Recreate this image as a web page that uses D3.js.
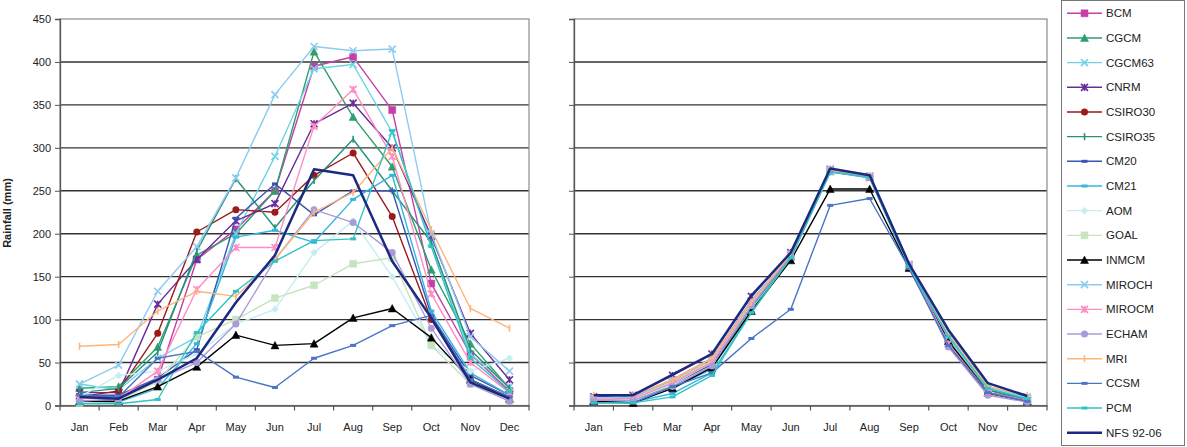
<!DOCTYPE html>
<html><head><meta charset="utf-8">
<script src="https://cdn.jsdelivr.net/npm/d3@7"></script>
<style>body{margin:0;background:#fff;}svg{display:block;font-family:"Liberation Sans",Arial,sans-serif;}</style>
</head><body><svg id="c" width="1187" height="447"></svg>
<script>
const months = ["Jan","Feb","Mar","Apr","May","Jun","Jul","Aug","Sep","Oct","Nov","Dec"];
const yTicks = [0,50,100,150,200,250,300,350,400,450];
const models = ["BCM","CGCM","CGCM63","CNRM","CSIRO30","CSIRO35","CM20","CM21","AOM","GOAL","INMCM","MIROCH","MIROCM","ECHAM","MRI","CCSM","PCM","NFS 92-06"];

// Left panel: raw model rainfall (mm)
const bcmRaw     = [10,10,30,170,205,250,395,406,344,142,60,17];
const cgcmRaw    = [20,22,68,175,200,250,412,336,278,158,72,20];
const cgcm63Raw  = [25,18,55,80,200,290,392,397,318,190,60,22];
const cnrmRaw    = [15,15,118,170,215,235,328,352,300,197,84,30];
const csiro30Raw = [10,17,84,202,228,225,268,294,220,100,30,10];
const csiro35Raw = [15,20,62,180,264,207,262,310,250,190,65,20];
const cm20Raw    = [12,12,32,65,218,258,222,250,250,105,35,12];
const cm21Raw    = [3,4,20,72,196,204,190,240,268,110,38,12];
const aomRaw     = [10,35,40,60,95,112,178,215,150,70,40,55];
const goalRaw    = [3,5,28,80,100,125,140,165,172,70,25,5];
const inmcmRaw   = [5,5,22,45,82,70,72,102,113,79,30,8];
const mirochRaw  = [25,47,133,185,265,362,418,413,415,200,80,40];
const mirocmRaw  = [8,8,40,135,184,184,325,368,290,130,50,15];
const echamRaw   = [5,8,30,50,95,170,228,213,178,90,25,5];
const mriRaw     = [69,71,110,133,127,170,225,248,300,205,113,90];
const ccsmRaw    = [12,10,55,63,33,21,55,70,93,105,30,10];
const pcmRaw     = [2,2,7,85,133,168,192,194,320,185,55,16];
const nfsObs     = [10,8,30,55,120,175,275,268,168,102,27,8];

// Right panel: corrected model rainfall (mm)
const bcmCor     = [8,10,30,55,122,176,274,266,163,75,18,8];
const cgcmCor    = [6,8,25,50,118,174,273,266,162,78,20,8];
const cgcm63Cor  = [5,6,20,42,112,172,272,265,162,80,20,6];
const cnrmCor    = [10,12,35,60,127,178,275,267,164,72,15,6];
const csiro30Cor = [8,10,28,52,120,175,273,266,163,70,14,5];
const csiro35Cor = [6,7,22,45,115,173,272,266,162,75,18,6];
const cm20Cor    = [7,8,25,48,118,175,273,266,163,78,20,8];
const cm21Cor    = [4,4,14,38,108,172,272,265,161,82,22,8];
const aomCor     = [6,7,25,50,118,176,274,267,164,80,20,10];
const goalCor    = [8,9,28,52,120,176,274,267,164,78,20,9];
const inmcmCor   = [5,3,20,44,110,169,252,252,160,75,15,5];
const mirochCor  = [9,10,30,55,122,176,274,266,164,80,22,10];
const mirocmCor  = [7,8,26,50,120,175,273,266,163,72,15,6];
const echamCor   = [6,6,22,46,116,174,273,266,162,68,12,4];
const mriCor     = [12,12,30,55,120,176,274,267,164,85,22,12];
const ccsmCor    = [3,3,22,38,78,112,233,241,160,70,15,5];
const pcmCor     = [3,3,10,35,108,172,272,266,162,80,20,8];
const nfsCor     = [12,12,36,60,128,178,276,268,165,88,26,11];

const rawSeries = [bcmRaw,cgcmRaw,cgcm63Raw,cnrmRaw,csiro30Raw,csiro35Raw,cm20Raw,cm21Raw,aomRaw,goalRaw,inmcmRaw,mirochRaw,mirocmRaw,echamRaw,mriRaw,ccsmRaw,pcmRaw,nfsObs];
const corSeries = [bcmCor,cgcmCor,cgcm63Cor,cnrmCor,csiro30Cor,csiro35Cor,cm20Cor,cm21Cor,aomCor,goalCor,inmcmCor,mirochCor,mirocmCor,echamCor,mriCor,ccsmCor,pcmCor,nfsCor];

const colors = ["#c43fa6","#2e9e6e","#6fd3e3","#6a2c9a","#9b1a1a","#2a8f7a","#3a55b0","#35b6e0","#c4eef2","#c6e4c0","#000000","#8ecbf0","#ff8cc4","#a99bd8","#ffb47a","#4a74c6","#33c2c4","#1b2a80"];
const markers = ["square","triangle","x","star","circle","plus","dash","dash","diamond","square","triangle","x","star","circle","plus","dash","dash","none"];

const svg = d3.select("#c");
const y = d3.scaleLinear().domain([0,450]).range([405.5,19]);

function markerPath(type, s){
  const h = s/2;
  switch(type){
    case "square": return `M${-h},${-h}H${h}V${h}H${-h}Z`;
    case "triangle": return `M0,${-h-0.5}L${h+0.5},${h}L${-h-0.5},${h}Z`;
    case "diamond": return `M0,${-h}L${h},0L0,${h}L${-h},0Z`;
    case "x": return `M${-h},${-h}L${h},${h}M${-h},${h}L${h},${-h}`;
    case "star": return `M${-h},${-h}L${h},${h}M${-h},${h}L${h},${-h}M0,${-h}V${h}`;
    case "plus": return `M0,${-h}V${h}`;
    case "dash": return `M${-h+0.5},0H${h-0.5}`;
    default: return "";
  }
}
function drawMarker(g, type, color, cx, cy){
  if(type==="none") return;
  const filled = ["square","triangle","diamond"].includes(type);
  if(type==="circle"){
    g.append("circle").attr("cx",cx).attr("cy",cy).attr("r",3.5).attr("fill",color);
    return;
  }
  g.append("path").attr("transform",`translate(${cx},${cy})`)
    .attr("d", markerPath(type, 7))
    .attr("fill", filled?color:"none").attr("stroke",color)
    .attr("stroke-width", filled?0.5:(type==="dash"?3:1.6));
}

function panel(x0, x1, series, showY){
  const x = d3.scaleBand().domain(months).range([x0,x1]);
  const g = svg.append("g");
  g.selectAll(".grid").data(yTicks.slice(1,-1)).enter().append("line")
    .attr("x1",x0).attr("x2",x1).attr("y1",d=>y(d)).attr("y2",d=>y(d))
    .attr("stroke","#333").attr("stroke-width",1.4);
  g.append("rect").attr("x",x0).attr("y",y(450)).attr("width",x1-x0).attr("height",y(0)-y(450))
    .attr("fill","none").attr("stroke","#8c8c8c").attr("stroke-width",1.2);
  const ya = d3.axisLeft(y).tickValues(yTicks).tickSize(5).tickFormat(showY?d3.format("d"):()=>"");
  const yg = g.append("g").attr("transform",`translate(${x0},0)`).call(ya);
  yg.select(".domain").attr("stroke","#555").attr("stroke-width",1.3);
  yg.selectAll(".tick line").attr("stroke","#555");
  yg.selectAll("text").attr("font-size",11).attr("fill","#222").attr("font-family","Liberation Sans, Arial, sans-serif").attr("x",-9);
  const xa = d3.axisBottom(x).tickSize(0).tickPadding(18);
  const xg = g.append("g").attr("transform",`translate(0,${y(0)})`).call(xa);
  xg.select(".domain").attr("stroke","#555").attr("stroke-width",1.3);
  xg.selectAll("text").attr("font-size",11).attr("fill","#222").attr("font-family","Liberation Sans, Arial, sans-serif");
  g.selectAll(".xt").data(d3.range(13)).enter().append("line")
    .attr("x1",i=>x0+i*x.bandwidth()).attr("x2",i=>x0+i*x.bandwidth())
    .attr("y1",y(0)).attr("y2",y(0)+5).attr("stroke","#555").attr("stroke-width",1.2);
  const line = d3.line().x((d,i)=>x(months[i])+x.bandwidth()/2).y(d=>y(d));
  series.forEach((s,k)=>{
    const sg = g.append("g");
    sg.append("path").datum(s).attr("d",line).attr("fill","none")
      .attr("stroke",colors[k]).attr("stroke-width", k===17?2.5:1.4).attr("stroke-linejoin","round");
    s.forEach((v,i)=>drawMarker(sg, markers[k], colors[k], x(months[i])+x.bandwidth()/2, y(v)));
  });
}
panel(60, 529, rawSeries, true);
panel(574, 1047, corSeries, false);

svg.append("text").attr("transform","translate(11,213) rotate(-90)").attr("text-anchor","middle")
  .attr("font-size",11).attr("font-weight","bold").attr("fill","#222").text("Rainfall (mm)");

const lg = svg.append("g");
lg.append("rect").attr("x",1061.5).attr("y",0.5).attr("width",123).attr("height",445).attr("fill","#fff").attr("stroke","#777");
const ly = d3.scalePoint().domain(models).range([13.3,432.7]);
models.forEach((m,k)=>{
  const yy = ly(m);
  lg.append("line").attr("x1",1067).attr("x2",1102).attr("y1",yy).attr("y2",yy)
    .attr("stroke",colors[k]).attr("stroke-width",k===17?2.5:1.4);
  drawMarker(lg, markers[k], colors[k], 1084.5, yy);
  lg.append("text").attr("x",1106).attr("y",yy+4).attr("font-size",11.5).attr("fill","#222").text(m);
});
</script></body></html>
